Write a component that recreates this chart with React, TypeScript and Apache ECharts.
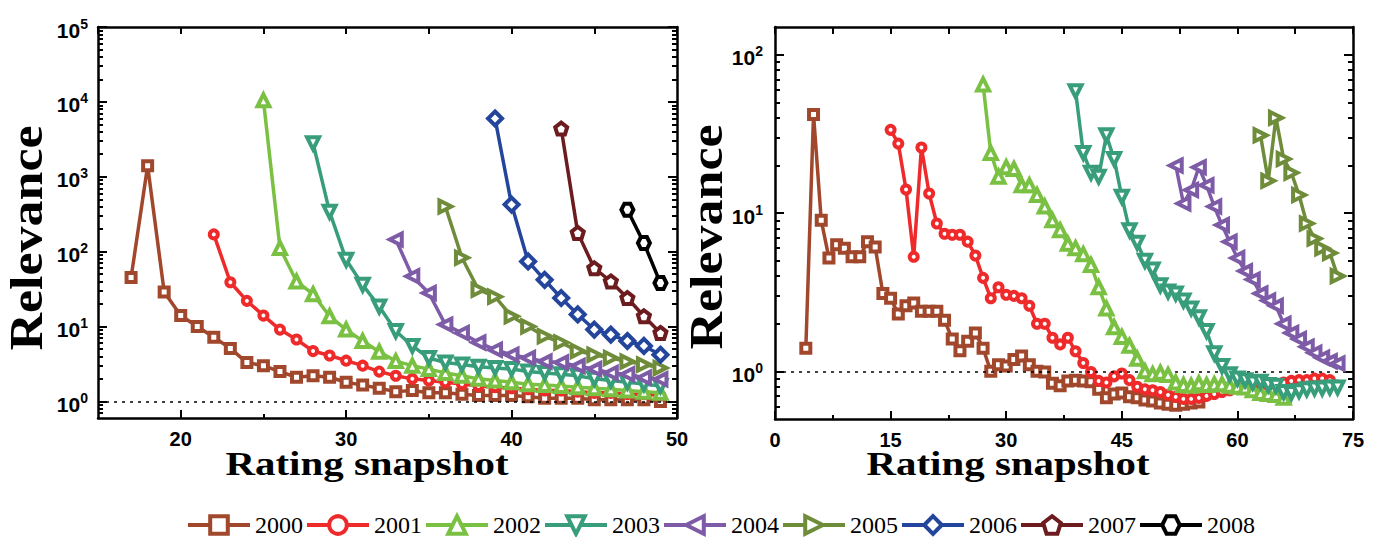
import React, { useEffect, useRef } from "react";
import * as echarts from "echarts";

// ---------- data ----------
const years = ["2000", "2001", "2002", "2003", "2004", "2005", "2006", "2007", "2008"];
const colors = ["#A0472C", "#EE2A2B", "#7AC143", "#379D7B", "#7D5BA6", "#6F8C3B", "#23459B", "#6C1C1E", "#000000"];

// Left panel: first rating snapshot of each series, then one value per snapshot
const leftStart = [17, 22, 25, 28, 33, 36, 39, 43, 47];
const left2000 = [45, 1400, 29, 14, 10, 7.2, 5.1, 3.3, 3.0, 2.5, 2.1, 2.2, 2.1, 1.8, 1.65, 1.5, 1.35, 1.4, 1.3, 1.3, 1.25, 1.2, 1.2, 1.2, 1.15, 1.1, 1.1, 1.1, 1.05, 1.05, 1.05, 1.05, 1.0];
const left2001 = [170, 39, 22, 14, 9.1, 6.7, 4.7, 4.1, 3.5, 3.0, 2.5, 2.2, 2.0, 1.9, 1.8, 1.7, 1.6, 1.55, 1.5, 1.45, 1.4, 1.4, 1.35, 1.3, 1.3, 1.25, 1.25, 1.2];
const left2002 = [10500, 112, 40, 27, 13.7, 9.1, 6.4, 4.6, 3.45, 3.0, 2.7, 2.4, 2.2, 2.0, 1.9, 1.8, 1.7, 1.65, 1.6, 1.55, 1.5, 1.45, 1.4, 1.35, 1.3];
const left2003 = [2800, 340, 78, 36, 18.5, 8.7, 5.5, 3.8, 3.3, 3.1, 2.9, 2.8, 2.7, 2.5, 2.4, 2.3, 2.2, 2.0, 1.9, 1.8, 1.7, 1.6];
const left2004 = [145, 47, 28, 10.6, 8.2, 6.1, 4.9, 4.2, 3.8, 3.4, 3.3, 2.96, 2.7, 2.4, 2.3, 2.07, 1.97];
const left2005 = [400, 83, 31, 25, 13.7, 10, 7.4, 6.1, 4.7, 4.2, 3.8, 3.4, 3.1, 2.8];
const left2006 = [6000, 425, 74, 42, 24, 14.5, 9.1, 7.8, 6.4, 5.5, 4.2];
const left2007 = [4400, 178, 60, 40, 24, 13.7, 8.2];
const left2008 = [363, 130, 38];
const leftValues = [left2000, left2001, left2002, left2003, left2004, left2005, left2006, left2007, left2008];

// Right panel
const rightStart = [4, 15, 27, 39, 52, 63];
const right2000 = [1.4, 42, 9.0, 5.2, 6.3, 6.0, 5.3, 5.3, 6.6, 6.1, 3.1, 2.9, 2.3, 2.6, 2.7, 2.4, 2.4, 2.4, 2.1, 1.6, 1.35, 1.55, 1.75, 1.4, 1.0, 1.1, 1.08, 1.19, 1.25, 1.1, 1.0, 0.99, 0.84, 0.81, 0.87, 0.88, 0.87, 0.86, 0.77, 0.68, 0.72, 0.73, 0.69, 0.68, 0.66, 0.65, 0.63, 0.62, 0.61, 0.62, 0.63, 0.64];
const right2001 = [33.6, 27.5, 14.1, 5.3, 26, 13.3, 8.6, 7.4, 7.3, 7.3, 6.6, 5.4, 3.9, 2.9, 3.4, 3.05, 3.0, 2.9, 2.6, 2.0, 2.0, 1.63, 1.48, 1.63, 1.34, 1.13, 0.99, 0.87, 0.85, 0.93, 0.97, 0.88, 0.8, 0.77, 0.76, 0.74, 0.71, 0.69, 0.67, 0.67, 0.68, 0.7, 0.72, 0.74, 0.76, 0.78, 0.8, 0.8, 0.82, 0.82, 0.83, 0.85, 0.87, 0.88, 0.88, 0.9, 0.9, 0.88];
const right2002 = [65, 24, 17, 19.5, 19, 15, 15, 13, 11, 9, 7.8, 6.4, 6.0, 5.5, 4.7, 3.4, 2.5, 1.9, 1.65, 1.45, 1.2, 1.0, 0.96, 0.98, 0.95, 0.85, 0.82, 0.81, 0.84, 0.82, 0.83, 0.83, 0.81, 0.8, 0.79, 0.76, 0.73, 0.72, 0.71, 0.68];
const right2003 = [59, 24, 18, 17, 31, 22, 12.7, 7.8, 6.5, 5.0, 4.4, 3.5, 3.2, 3.1, 2.8, 2.5, 2.2, 1.8, 1.3, 1.08, 0.96, 0.9, 0.88, 0.85, 0.86, 0.82, 0.81, 0.74, 0.73, 0.75, 0.77, 0.78, 0.78, 0.79, 0.79];
const right2004 = [20, 11.5, 14, 19.5, 15, 11, 8.4, 6.6, 5.2, 4.3, 3.8, 3.1, 2.8, 2.6, 2.0, 1.75, 1.6, 1.43, 1.31, 1.22, 1.16, 1.12];
const right2005 = [31, 16, 40, 22, 18, 13, 8.6, 6.9, 6.0, 5.6, 4.0];
const rightValues = [right2000, right2001, right2002, right2003, right2004, right2005];

// Tick labels / tick positions
const leftXTicks = [20, 30, 40, 50];
const leftXMinor = [25, 35, 45];
const leftYTicks = [1, 10, 100, 1000, 10000, 100000];
const leftYMinor = [0.7, 0.8, 0.9, 2, 3, 4, 5, 6, 7, 8, 9, 20, 30, 40, 50, 60, 70, 80, 90, 200, 300, 400, 500, 600, 700, 800, 900, 2000, 3000, 4000, 5000, 6000, 7000, 8000, 9000, 20000, 30000, 40000, 50000, 60000, 70000, 80000, 90000];
const rightXTicks = [0, 15, 30, 45, 60, 75];
const rightXMinor = [7.5, 22.5, 37.5, 52.5, 67.5];
const rightYTicks = [1, 10, 100];
const rightYMinor = [0.6, 0.7, 0.8, 0.9, 2, 3, 4, 5, 6, 7, 8, 9, 20, 30, 40, 50, 60, 70, 80, 90];

// ---------- styles ----------
const SANS = '"Liberation Sans", Arial, sans-serif';
const SERIF = '"Liberation Serif", "Times New Roman", serif';
const PENTAGON = "path://M0,-10L9.51,-3.09L5.88,8.09L-5.88,8.09L-9.51,-3.09Z";
const HEXAGON = "path://M-5,-8.66L5,-8.66L10,0L5,8.66L-5,8.66L-10,0Z";
const symbols = ["rect", "circle", "triangle", "triangle", "triangle", "triangle", "diamond", PENTAGON, HEXAGON];
const rotations = [0, 0, 0, 180, 90, -90, 0, 0, 0];
const sizes = [9, 8, 12, 12, 12, 12, 14, 12, 12];

const lineAxis = { show: true, onZero: false, lineStyle: { color: "#000", width: 2.5 } };
const noLine = { show: false, onZero: false };
const tickStyle = { color: "#000", width: 2 };

function xAxes(grid: number, min: number, max: number, majors: number[], minors: number[], topInterval: number) {
  return [
    {
      gridIndex: grid, type: "value", position: "bottom", min, max,
      axisLine: lineAxis, splitLine: { show: false },
      axisTick: { show: true, inside: true, length: 8, customValues: majors, lineStyle: tickStyle },
      axisLabel: {
        show: true, customValues: majors, margin: 11, color: "#000",
        fontSize: 20, fontWeight: "bold", fontFamily: SANS,
      },
    },
    {
      gridIndex: grid, type: "value", position: "bottom", min, max,
      axisLine: noLine, splitLine: { show: false },
      axisTick: { show: true, inside: true, length: 4, customValues: minors, lineStyle: tickStyle },
      axisLabel: { show: false },
    },
    {
      gridIndex: grid, type: "value", position: "top", min, max, interval: topInterval,
      axisLine: lineAxis, splitLine: { show: false },
      axisTick: { show: true, inside: true, length: 7, lineStyle: tickStyle },
      axisLabel: { show: false },
    },
  ];
}

function yAxes(grid: number, min: number, max: number, majors: number[], minors: number[], margin: number) {
  const base = { gridIndex: grid, type: "log", logBase: 10, min, max, splitLine: { show: false } };
  return [
    {
      ...base, position: "left", axisLine: lineAxis,
      axisTick: { show: true, inside: true, length: 9, customValues: majors, lineStyle: tickStyle },
      axisLabel: {
        show: true, customValues: majors, margin, color: "#000",
        fontSize: 21, fontWeight: "bold", fontFamily: SANS,
        formatter: (v: number) => `{b|10}{s|${Math.round(Math.log10(v))}}`,
        rich: {
          b: { fontSize: 21, fontWeight: "bold", fontFamily: SANS, color: "#000", lineHeight: 21, padding: [6, 0, 0, 0] },
          s: { fontSize: 14, fontWeight: "bold", fontFamily: SANS, color: "#000", lineHeight: 14, verticalAlign: "top" },
        },
      },
    },
    {
      ...base, position: "left", axisLine: noLine,
      axisTick: { show: true, inside: true, length: 5, customValues: minors, lineStyle: tickStyle },
      axisLabel: { show: false },
    },
    {
      ...base, position: "right", axisLine: lineAxis,
      axisTick: { show: true, inside: true, length: 9, customValues: majors, lineStyle: tickStyle },
      axisLabel: { show: false },
    },
    {
      ...base, position: "right", axisLine: noLine,
      axisTick: { show: true, inside: true, length: 5, customValues: minors, lineStyle: tickStyle },
      axisLabel: { show: false },
    },
  ];
}

const dashed = {
  silent: true, symbol: ["none", "none"], label: { show: false },
  lineStyle: { color: "#000", type: [3, 5], width: 1.5 },
  emphasis: { disabled: true },
  data: [{ yAxis: 1 }],
};

function makeSeries(i: number, values: number[], start: number, xIdx: number, yIdx: number, withLine: boolean) {
  return {
    name: years[i], type: "line", xAxisIndex: xIdx, yAxisIndex: yIdx,
    data: values.map((v, k) => [start + k, v]),
    symbol: symbols[i], symbolSize: sizes[i], symbolRotate: rotations[i],
    showSymbol: true, showAllSymbol: true,
    lineStyle: { color: colors[i], width: 3.5 },
    itemStyle: { color: "#fff", borderColor: colors[i], borderWidth: 4 },
    emphasis: { disabled: true },
    z: 3 + i,
    ...(withLine ? { markLine: dashed } : {}),
  };
}

export default function App() {
  const ref = useRef<HTMLDivElement>(null);
  useEffect(() => {
    if (!ref.current) return;
    const chart = echarts.init(ref.current, undefined, { renderer: "svg" });
    const series: any[] = [];
    leftValues.forEach((vals, i) => series.push(makeSeries(i, vals, leftStart[i], 0, 0, i === 0)));
    rightValues.forEach((vals, i) => series.push(makeSeries(i, vals, rightStart[i], 3, 4, i === 0)));

    const titleStyle = { fill: "#000", fontWeight: "bold", fontFamily: SERIF, align: "center", verticalAlign: "middle", textAlign: "center", textVerticalAlign: "middle" };

    chart.setOption({
      animation: false,
      backgroundColor: "#fff",
      grid: [
        { left: 98, top: 27, width: 579, height: 391, outerBoundsMode: "none" },
        { left: 775, top: 27, width: 578, height: 392, outerBoundsMode: "none" },
      ],
      xAxis: [
        ...xAxes(0, 15, 50, leftXTicks, leftXMinor, 5),
        ...xAxes(1, 0, 75, rightXTicks, rightXMinor, 7.5),
      ],
      yAxis: [
        ...yAxes(0, 0.6, 100000, leftYTicks, leftYMinor, 10),
        ...yAxes(1, 0.5, 150, rightYTicks, rightYMinor, 12),
      ],
      legend: {
        data: years, left: 181, top: 508, itemWidth: 62, itemHeight: 22, itemGap: 2,
        selectedMode: false,
        itemStyle: { borderWidth: 4 },
        lineStyle: { width: 4 },
        textStyle: { fontFamily: SERIF, fontSize: 24, color: "#000" },
      },
      graphic: [
        { type: "text", x: 367, y: 464, scaleX: 1.24, style: { ...titleStyle, text: "Rating snapshot", fontSize: 33 } },
        { type: "text", x: 1008, y: 464, scaleX: 1.24, style: { ...titleStyle, text: "Rating snapshot", fontSize: 33 } },
        { type: "text", x: 27, y: 238, rotation: Math.PI / 2, scaleX: 1.13, style: { ...titleStyle, text: "Relevance", fontSize: 46 } },
        { type: "text", x: 707, y: 237, rotation: Math.PI / 2, scaleX: 1.13, style: { ...titleStyle, text: "Relevance", fontSize: 46 } },
      ],
      series,
    });
    return () => chart.dispose();
  }, []);
  return <div ref={ref} style={{ position: "fixed", left: 0, top: 0, width: 1380, height: 537 }} />;
}
